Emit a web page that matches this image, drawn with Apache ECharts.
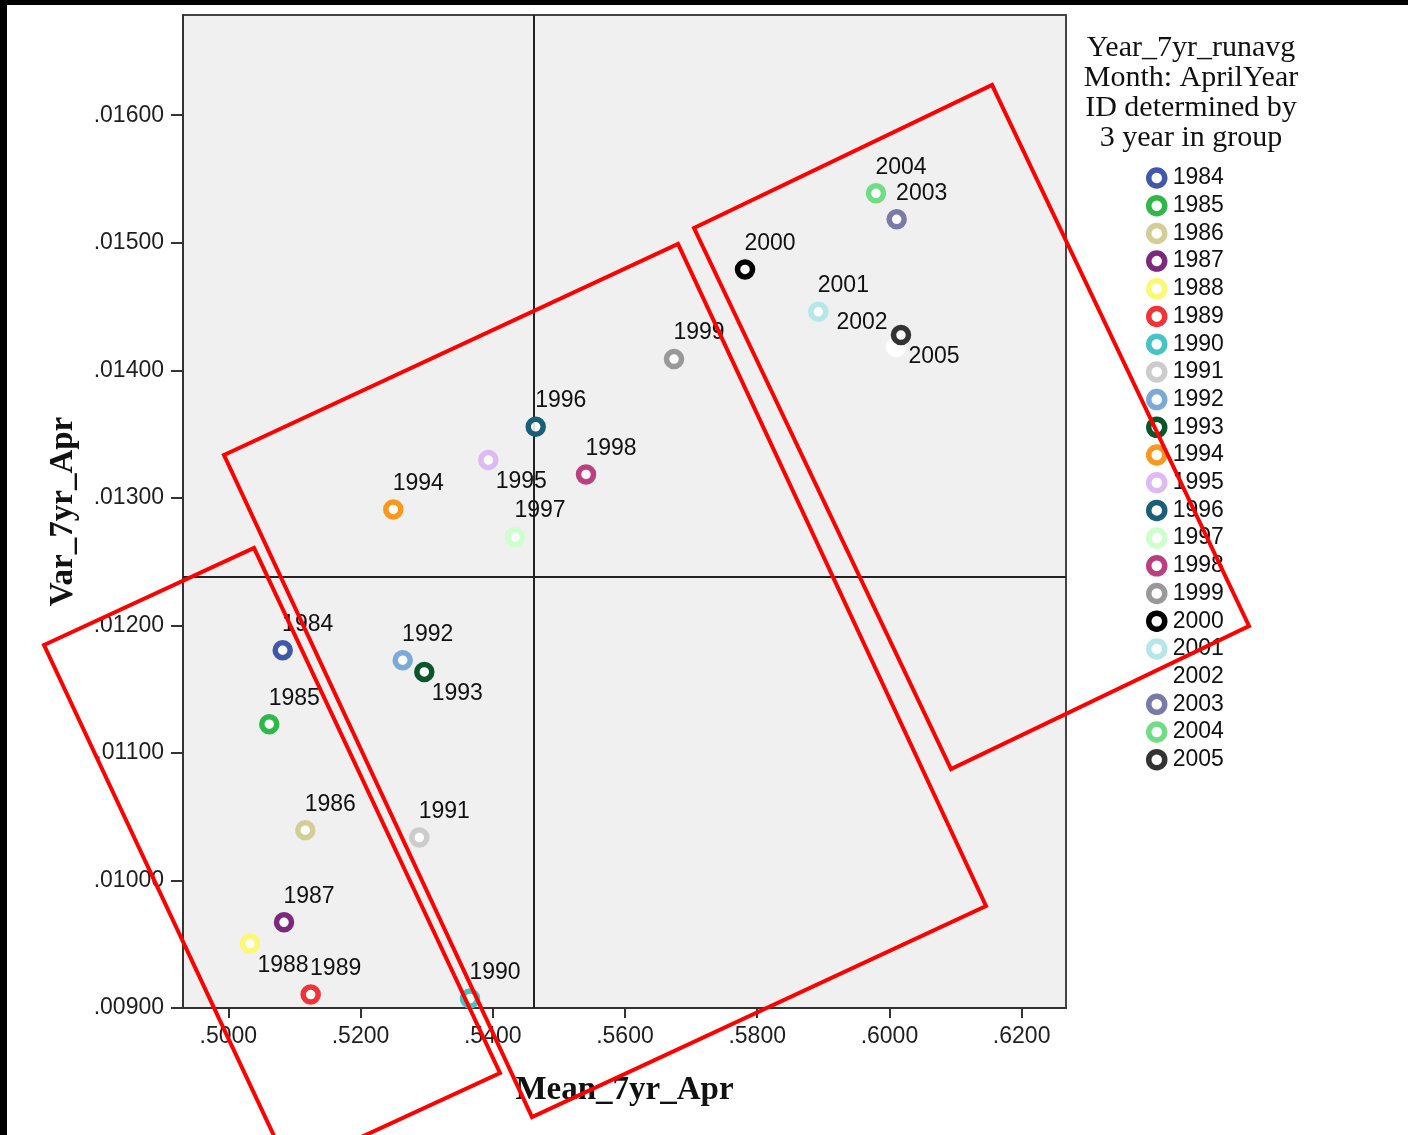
<!DOCTYPE html>
<html>
<head>
<meta charset="utf-8">
<title>Mean vs Var, 7yr April</title>
<script src="https://cdn.jsdelivr.net/npm/echarts@6/dist/echarts.min.js"></script>
<style>
  html, body { margin: 0; padding: 0; background: #fff; }
  #scatterChart { width: 1408px; height: 1135px; }
</style>
</head>
<body>
<div id="scatterChart"></div>
<script>
  // one point per year
  const years = ['1984', '1985', '1986', '1987', '1988', '1989', '1990', '1991', '1992', '1993', '1994',
    '1995', '1996', '1997', '1998', '1999', '2000', '2001', '2002', '2003', '2004', '2005'];
  const meanApr = [0.50823, 0.50620, 0.51165, 0.50843, 0.50328, 0.51246, 0.53656, 0.52889, 0.52638, 0.52965, 0.52496,
    0.53933, 0.54650, 0.54337, 0.55411, 0.56742, 0.57816, 0.58925, 0.60100, 0.60110, 0.59797, 0.60175];
  const varApr = [0.011805, 0.011225, 0.010394, 0.009672, 0.009505, 0.009105, 0.009074, 0.010336, 0.011727, 0.011635, 0.012909,
    0.013296, 0.013557, 0.012694, 0.013184, 0.014088, 0.014791, 0.014459, 0.014182, 0.015184, 0.015388, 0.014276];
  const yearColors = ['#3e58ac', '#2eb848', '#d3ce97', '#7c287d', '#fbf873', '#ef3338', '#48c2c5', '#cccccc', '#7aaad5', '#0a562c', '#f8981d',
    '#ddbaf1', '#1a5f76', '#ccffcc', '#bb3f7f', '#999999', '#000000', '#b6e7e8', '#ffffff', '#797aa7', '#70dc84', '#333333'];
  // where the year label sits: ur = upper right, lr = lower right, ul = upper left
  const labelSide = ['ur', 'ur', 'ur', 'ur', 'lr', 'ur', 'ur', 'ur', 'ur', 'lr', 'ur',
    'lr', 'ur', 'ur', 'ur', 'ur', 'ur', 'ur', 'ul', 'ur', 'ur', 'lr'];

  const xTicks = [0.50, 0.52, 0.54, 0.56, 0.58, 0.60, 0.62];
  const yTicks = [0.009, 0.010, 0.011, 0.012, 0.013, 0.014, 0.015, 0.016];
  const meanRef = 0.54624;   // vertical reference line
  const varRef = 0.012382;   // horizontal reference line

  const legendTitle = 'Year_7yr_runavg\nMonth: AprilYear\nID determined by\n3 year in group';

  const sideOffset = { ur: [25, -26], lr: [33, 22], ul: [-34, -24] };
  const sansFont = '"Liberation Sans", Arial, sans-serif';
  const serifFont = '"Liberation Serif", "Times New Roman", serif';

  // red hand-drawn boxes on top of the picture
  const redBoxes = [
    [[44, 645], [254, 548], [500, 1073], [290, 1170]],
    [[224, 455], [678, 244], [986, 906], [532, 1117]],
    [[694, 228], [992, 85], [1249, 626], [951, 769]]
  ];

  let series = years.map((yr, i) => {
    let s = {
      name: yr,
      type: 'scatter',
      symbol: 'circle',
      symbolSize: 15,
      data: [[meanApr[i], varApr[i]]],
      itemStyle: {
        color: 'rgba(255,255,255,0.85)',
        borderColor: yearColors[i],
        borderWidth: 5.5,
        opacity: 1
      },
      label: {
        show: true,
        position: 'inside',
        offset: sideOffset[labelSide[i]],
        formatter: yr,
        fontFamily: sansFont,
        fontSize: 23,
        color: '#111'
      },
      z: 3
    }
    if (i === 0) {
      s.markLine = {
        silent: true,
        precision: 6,
        symbol: ['none', 'none'],
        label: {show: false},
        lineStyle: {color: '#222', width: 2, type: 'solid', opacity: 1},
        data: [{xAxis: meanRef}, {yAxis: varRef}],
        z: 1
      }
    }
    return s
  })

  let chart = echarts.init(document.getElementById('scatterChart'))
  chart.setOption({
    animation: false,
    backgroundColor: '#fff',
    title: {
      text: legendTitle,
      left: 1186,
      top: 28,
      textAlign: 'center',
      textStyle: {
        fontFamily: serifFont,
        fontWeight: 'normal',
        fontSize: 30,
        lineHeight: 30,
        color: '#111'
      }
    },
    legend: {
      orient: 'vertical',
      left: 1141,
      top: 161,
      icon: 'circle',
      itemWidth: 16,
      itemHeight: 16,
      itemGap: 3.7,
      selectedMode: false,
      data: years.map((yr, i) => ({
        name: yr,
        itemStyle: {color: '#fff', borderColor: yearColors[i], borderWidth: 5.5}
      })),
      textStyle: {
        fontFamily: sansFont,
        fontSize: 23,
        lineHeight: 24,
        color: '#111',
        padding: [0, 0, 0, 3]
      }
    },
    grid: {
      left: 183,
      top: 15,
      right: 342,
      bottom: 127,
      show: true,
      backgroundColor: '#f0f0f0',
      borderColor: '#444',
      borderWidth: 2
    },
    xAxis: {
      type: 'value',
      min: 0.49315,
      max: 0.62671,
      name: 'Mean_7yr_Apr',
      nameLocation: 'middle',
      nameGap: 66,
      nameTextStyle: {fontFamily: serifFont, fontWeight: 'bold', fontSize: 33, color: '#111'},
      axisLine: {lineStyle: {color: '#333', width: 2}},
      axisTick: {show: true, customValues: xTicks, length: 10, lineStyle: {color: '#333', width: 2}},
      axisLabel: {
        customValues: xTicks,
        margin: 17,
        fontFamily: sansFont,
        fontSize: 23,
        color: '#1e1e1e',
        formatter: v => v.toFixed(4).replace(/^0/, '')
      },
      splitLine: {show: false}
    },
    yAxis: {
      type: 'value',
      min: 0.009,
      max: 0.016786,
      name: 'Var_7yr_Apr',
      nameLocation: 'middle',
      nameGap: 103,
      nameRotate: 90,
      nameTextStyle: {fontFamily: serifFont, fontWeight: 'bold', fontSize: 33, color: '#111'},
      axisLine: {lineStyle: {color: '#333', width: 2}},
      axisTick: {show: true, customValues: yTicks, length: 12, lineStyle: {color: '#333', width: 2}},
      axisLabel: {
        customValues: yTicks,
        margin: 19,
        fontFamily: sansFont,
        fontSize: 23,
        color: '#1e1e1e',
        formatter: v => v.toFixed(5).replace(/^0/, '')
      },
      splitLine: {show: false}
    },
    graphic: [
      {type: 'rect', left: 0, top: 0, shape: {width: 1408, height: 5}, style: {fill: '#000'}, z: 100},
      {type: 'rect', left: 0, top: 0, shape: {width: 7, height: 1135}, style: {fill: '#000'}, z: 100}
    ].concat(redBoxes.map(pts => ({
      type: 'polygon',
      shape: {points: pts},
      style: {fill: 'none', stroke: '#ff0000', lineWidth: 4},
      z: 100
    }))),
    series: series
  })
</script>
</body>
</html>
